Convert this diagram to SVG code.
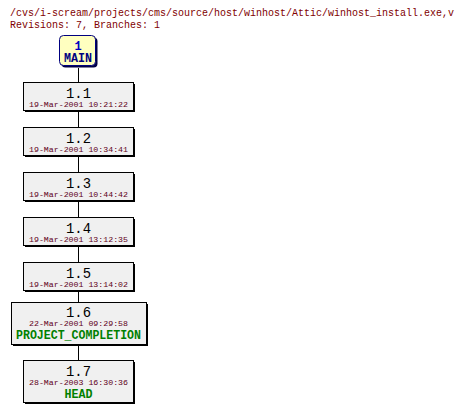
<svg xmlns="http://www.w3.org/2000/svg" width="464" height="413" viewBox="0 0 464 413">
<style>
.hdr{font-family:"Liberation Mono","DejaVu Sans Mono",monospace;font-size:11px;fill:#800000}
.box{fill:#f0f0f0;stroke:#000;stroke-width:1}
.sh{fill:#000}
.rev{font-family:"Liberation Mono","DejaVu Sans Mono",monospace;font-size:14px;fill:#000;text-anchor:middle}
.date{font-family:"Liberation Mono","DejaVu Sans Mono",monospace;font-size:8px;fill:#600020;text-anchor:middle}
.tag{font-family:"Liberation Mono","DejaVu Sans Mono",monospace;font-size:12px;font-weight:bold;fill:#008000;text-anchor:middle}
.conn{stroke:#000;stroke-width:1;fill:none}
</style>
<text class="hdr" x="10" y="16" textLength="444" lengthAdjust="spacingAndGlyphs">/cvs/i-scream/projects/cms/source/host/winhost/Attic/winhost_install.exe,v</text>
<text class="hdr" x="10" y="28" textLength="150" lengthAdjust="spacingAndGlyphs">Revisions: 7, Branches: 1</text>
<g id="connectors">
<line class="conn" x1="78.5" y1="68" x2="78.5" y2="82"/>
<line class="conn" x1="78.5" y1="111" x2="78.5" y2="127"/>
<line class="conn" x1="78.5" y1="156" x2="78.5" y2="172"/>
<line class="conn" x1="78.5" y1="201" x2="78.5" y2="217"/>
<line class="conn" x1="78.5" y1="246" x2="78.5" y2="262"/>
<line class="conn" x1="78.5" y1="291" x2="78.5" y2="302"/>
<line class="conn" x1="78.5" y1="345" x2="78.5" y2="360"/>
</g>
<g id="main">
<rect x="61.5" y="37.5" width="36" height="30" rx="4" fill="#000044"/>
<rect x="59.5" y="35.5" width="36" height="30" rx="4" fill="#ffffc0" stroke="#000080"/>
<text x="78" y="50" font-family="Liberation Mono,monospace" font-size="12" font-weight="bold" fill="#0000c0" text-anchor="middle">1</text>
<text x="78" y="62" font-family="Liberation Mono,monospace" font-size="12" font-weight="bold" fill="#000080" text-anchor="middle" textLength="28" lengthAdjust="spacingAndGlyphs">MAIN</text>
</g>
<g id="r1.1">
<rect class="sh" x="25" y="84" width="110" height="28"/>
<rect class="box" x="23.5" y="82.5" width="110" height="28"/>
<text class="rev" x="78.5" y="97.5" textLength="25" lengthAdjust="spacingAndGlyphs">1.1</text>
<text class="date" x="78.5" y="107" textLength="99" lengthAdjust="spacingAndGlyphs">19-Mar-2001 10:21:22</text>
</g>
<g id="r1.2">
<rect class="sh" x="25" y="129" width="110" height="28"/>
<rect class="box" x="23.5" y="127.5" width="110" height="28"/>
<text class="rev" x="78.5" y="142.5" textLength="25" lengthAdjust="spacingAndGlyphs">1.2</text>
<text class="date" x="78.5" y="152" textLength="99" lengthAdjust="spacingAndGlyphs">19-Mar-2001 10:34:41</text>
</g>
<g id="r1.3">
<rect class="sh" x="25" y="174" width="110" height="28"/>
<rect class="box" x="23.5" y="172.5" width="110" height="28"/>
<text class="rev" x="78.5" y="187.5" textLength="25" lengthAdjust="spacingAndGlyphs">1.3</text>
<text class="date" x="78.5" y="197" textLength="99" lengthAdjust="spacingAndGlyphs">19-Mar-2001 10:44:42</text>
</g>
<g id="r1.4">
<rect class="sh" x="25" y="219" width="110" height="28"/>
<rect class="box" x="23.5" y="217.5" width="110" height="28"/>
<text class="rev" x="78.5" y="232.5" textLength="25" lengthAdjust="spacingAndGlyphs">1.4</text>
<text class="date" x="78.5" y="242" textLength="99" lengthAdjust="spacingAndGlyphs">19-Mar-2001 13:12:35</text>
</g>
<g id="r1.5">
<rect class="sh" x="25" y="264" width="110" height="28"/>
<rect class="box" x="23.5" y="262.5" width="110" height="28"/>
<text class="rev" x="78.5" y="277.5" textLength="25" lengthAdjust="spacingAndGlyphs">1.5</text>
<text class="date" x="78.5" y="287" textLength="99" lengthAdjust="spacingAndGlyphs">19-Mar-2001 13:14:02</text>
</g>
<g id="r1.6">
<rect class="sh" x="13" y="304" width="135" height="42"/>
<rect class="box" x="11.5" y="302.5" width="135" height="42"/>
<text class="rev" x="78.5" y="316.5" textLength="25" lengthAdjust="spacingAndGlyphs">1.6</text>
<text class="date" x="78.5" y="326" textLength="99" lengthAdjust="spacingAndGlyphs">22-Mar-2001 09:29:58</text>
<text class="tag" x="78.5" y="338.5" textLength="125" lengthAdjust="spacingAndGlyphs">PROJECT_COMPLETION</text>
</g>
<g id="r1.7">
<rect class="sh" x="25" y="362" width="110" height="42"/>
<rect class="box" x="23.5" y="360.5" width="110" height="42"/>
<text class="rev" x="78.5" y="375.5" textLength="25" lengthAdjust="spacingAndGlyphs">1.7</text>
<text class="date" x="78.5" y="385" textLength="99" lengthAdjust="spacingAndGlyphs">28-Mar-2003 16:30:36</text>
<text class="tag" x="78.5" y="397.5" textLength="28" lengthAdjust="spacingAndGlyphs">HEAD</text>
</g>
</svg>
